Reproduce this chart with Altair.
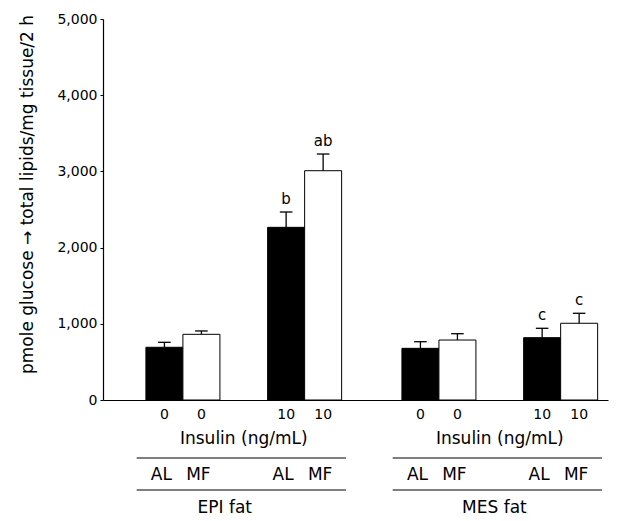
import altair as alt
import pandas as pd

# ---------------- data ----------------
fats = ["EPI fat", "MES fat"]
insulin = ["0", "10"]
diets = ["AL", "MF"]
means = [692, 862, 2266, 3009, 678, 787, 818, 1007]
sems = [65, 44, 201, 219, 87, 83, 123, 131]
sig = ["", "", "b", "ab", "", "", "c", "c"]
y_ticks = [0, 1000, 2000, 3000, 4000, 5000]
y_title = "pmole glucose → total lipids/mg tissue/2 h"
x_title = "Insulin (ng/mL)"

# ---------------- layout constants ----------------
BAR_W = 1.0
FIRST = 1.16
INS_STEP = 3.29
FAT_STEP = 6.92
X_MAX = 13.65
CAP = 0.17
FONT = "DejaVu Sans"
fat_label_shift = [-0.45, -0.08]

rows = []
i = 0
for f_i, f in enumerate(fats):
    for n_i, n in enumerate(insulin):
        for d_i, d in enumerate(diets):
            x0 = FIRST + f_i * FAT_STEP + n_i * INS_STEP + d_i * BAR_W
            xc = x0 + BAR_W / 2
            rows.append(dict(fat=f, ins=n, diet=d, x0=x0, x1=x0 + BAR_W, xc=xc,
                             cap0=xc - CAP, cap1=xc + CAP,
                             mean=means[i], top=means[i] + sems[i], sig=sig[i]))
            i += 1
df = pd.DataFrame(rows)

grp = []
for f_i, f in enumerate(fats):
    sub = df[df.fat == f]
    lo = sub.x0.min() - 0.25
    hi = sub.x1.max() + 0.12
    grp.append(dict(fat=f, lo=lo, hi=hi,
                    ctr=(sub.xc.min() + sub.xc.max()) / 2,
                    fctr=(lo + hi) / 2 + fat_label_shift[f_i],
                    xt=x_title))
gdf = pd.DataFrame(grp)

xs = alt.Scale(domain=[0, X_MAX], nice=False, zero=False)
ys = alt.Scale(domain=[0, 5000], nice=False)

xaxis = alt.Axis(labels=False, ticks=False, title=None, grid=False,
                 domainColor="black", domainWidth=1.2)
yaxis = alt.Axis(values=y_ticks, format=",d", grid=False,
                 labelFont=FONT, labelFontSize=14, labelColor="black",
                 labelPadding=3, tickSize=3, tickColor="black",
                 domainColor="black", domainWidth=1.2,
                 title=y_title, titleFont=FONT, titleFontSize=17,
                 titleFontWeight="normal", titleColor="black",
                 titleAngle=-90, titleX=-76, titleY=175,
                 titleAlign="center", titleBaseline="middle")


def X(field):
    return alt.X(field, scale=xs, axis=xaxis, title=None)


def Y(field):
    return alt.Y(field, scale=ys, axis=yaxis, title=y_title)


base = alt.Chart(df)

bars = base.mark_bar(stroke="black", strokeWidth=1).encode(
    x=X("x0:Q"),
    x2="x1:Q",
    y=Y("mean:Q"),
    y2=alt.datum(0),
    fill=alt.Fill("diet:N", scale=alt.Scale(domain=diets, range=["black", "white"]),
                  legend=None),
)

err = base.mark_rule(color="black", strokeWidth=1.3).encode(
    x=X("xc:Q"),
    y=Y("mean:Q"),
    y2="top:Q",
)
caps = base.mark_rule(color="black", strokeWidth=1.3).encode(
    x=X("cap0:Q"),
    x2="cap1:Q",
    y=Y("top:Q"),
)
sig_txt = base.mark_text(font=FONT, fontSize=15, baseline="alphabetic", dy=-8,
                         color="black").encode(
    x=X("xc:Q"),
    y=Y("top:Q"),
    text="sig:N",
)
ins_txt = base.mark_text(font=FONT, fontSize=14, baseline="middle",
                         color="black").encode(
    x=X("xc:Q"),
    y=alt.value(396),
    text="ins:N",
)
diet_txt = base.mark_text(font=FONT, fontSize=17, baseline="middle", dx=-3,
                          color="black").encode(
    x=X("xc:Q"),
    y=alt.value(456),
    text="diet:N",
)

g = alt.Chart(gdf)
xt_txt = g.mark_text(font=FONT, fontSize=17, baseline="middle", color="black").encode(
    x=X("ctr:Q"),
    y=alt.value(420),
    text="xt:N",
)
line1 = g.mark_rule(color="black", strokeWidth=1.2).encode(
    x=X("lo:Q"), x2="hi:Q", y=alt.value(439))
line2 = g.mark_rule(color="black", strokeWidth=1.2).encode(
    x=X("lo:Q"), x2="hi:Q", y=alt.value(471))
fat_txt = g.mark_text(font=FONT, fontSize=17, baseline="middle", color="black").encode(
    x=X("fctr:Q"),
    y=alt.value(489),
    text="fat:N",
)

chart = alt.layer(bars, err, caps, sig_txt, ins_txt, diet_txt, xt_txt,
                  line1, line2, fat_txt).properties(
    width=505, height=381,
    autosize=alt.AutoSizeParams(type="none"),
    padding={"left": 95, "top": 11, "right": 13, "bottom": 121},
    background="white",
).configure_view(stroke=None)

chart.save("out.html", embed_options={"renderer": "svg", "actions": False})
